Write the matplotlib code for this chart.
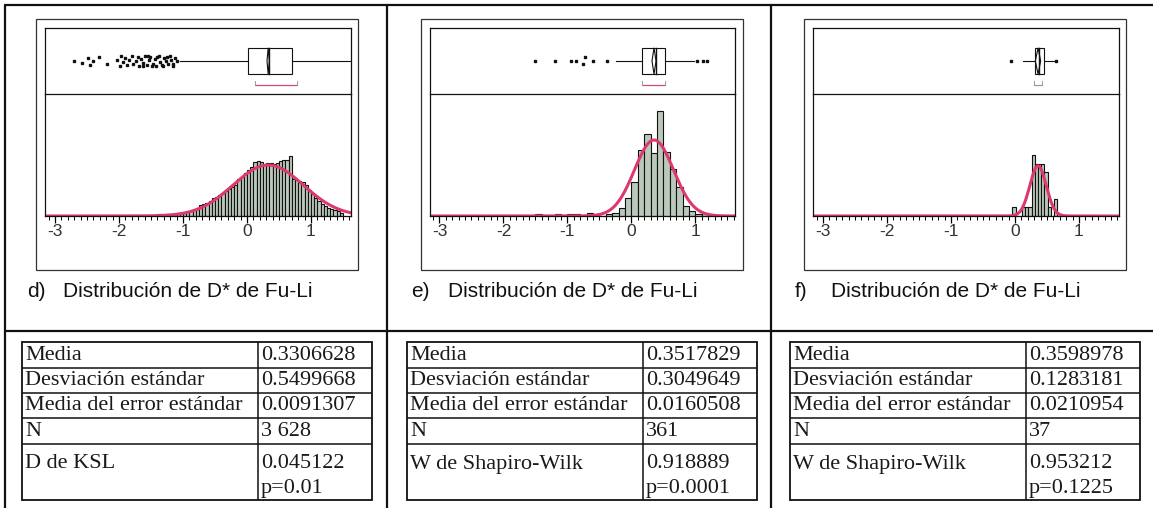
import numpy as np
import matplotlib
matplotlib.use("Agg")
import matplotlib.pyplot as plt
from matplotlib.lines import Line2D
from matplotlib.patches import Rectangle, Polygon

# ---------------- data ----------------
panel_letters = ["d)", "e)", "f)"]
caption_text = "Distribución de D* de Fu-Li"
xticks_major = [-3, -2, -1, 0, 1]

# histogram bins (start, width) and counts
d_bin_start, d_bin_w = -2.75, 0.05
d_counts = [1, 0, 0, 1, 0, 1, 0, 1, 1, 0, 1, 1, 0, 1, 2, 1, 1, 2, 1, 2, 2, 1, 2, 3, 2,
            3, 3, 4, 3, 4, 5, 5, 6, 7, 7,
            8, 10, 13, 18, 21, 28, 31, 34, 39, 46, 49, 54, 59, 65, 70, 75, 80, 95, 101, 111,
            119, 126, 139, 142, 139, 132, 137, 137, 134, 137, 142, 144, 144, 155, 95,
            93, 90, 88, 80, 67, 57, 46, 39, 31, 26, 21, 18, 15, 13, 8]
e_bin_start, e_bin_w = -1.5, 0.1
e_counts = [1, 0, 0, 1, 0, 1, 1, 0, 2, 0, 0, 1, 2, 5, 11, 21, 41, 51, 39, 65, 40, 29, 18, 6, 3, 1, 2]
f_bin_start, f_bin_w = -0.04, 0.05
f_counts = [1, 0, 0, 1, 1, 1, 7, 6, 6, 6, 5, 1, 0, 2]

# summary statistics (tables)
table_labels = [
    ["Media", "Desviación estándar", "Media del error estándar", "N", "D de KSL"],
    ["Media", "Desviación estándar", "Media del error estándar", "N", "W de Shapiro-Wilk"],
    ["Media", "Desviación estándar", "Media del error estándar", "N", "W de Shapiro-Wilk"],
]
table_values = [
    ["0.3306628", "0.5499668", "0.0091307", "3 628", "0.045122\np=0.01"],
    ["0.3517829", "0.3049649", "0.0160508", "361", "0.918889\np=0.0001"],
    ["0.3598978", "0.1283181", "0.0210954", "37", "0.953212\np=0.1225"],
]
means = [0.3306628, 0.3517829, 0.3598978]
sds = [0.5499668, 0.3049649, 0.1283181]
sems = [0.0091307, 0.0160508, 0.0210954]
ns = [3628, 361, 37]

# box plot statistics: whisker low, q1, median, q3, whisker high
box_stats = [
    [-1.05, 0.01, 0.35, 0.71, 1.70],
    [-0.24, 0.17, 0.38, 0.52, 0.98],
    [0.125, 0.31, 0.37, 0.45, 0.62],
]
shortest_half = [[0.125, 0.78], [0.17, 0.53], [0.29, 0.42]]
d_out_x = [-2.71, -2.58, -2.48, -2.45, -2.41, -2.32, -2.19, -2.03, -1.99, -1.97, -1.93, -1.90,
           -1.87, -1.84, -1.80, -1.78, -1.74, -1.71, -1.69, -1.65, -1.62, -1.60, -1.56, -1.53,
           -1.51, -1.47, -1.44, -1.42, -1.38, -1.36, -1.33, -1.30, -1.27, -1.24, -1.21, -1.18,
           -1.15, -1.12, -1.09, -1.62, -1.55, -1.48, -1.40, -1.31, -1.25, -1.16]
d_out_y = [0.50, 0.47, 0.54, 0.44, 0.50, 0.56, 0.45, 0.52, 0.42, 0.58, 0.48, 0.55,
           0.44, 0.52, 0.58, 0.46, 0.50, 0.56, 0.42, 0.53, 0.47, 0.58, 0.44, 0.51,
           0.56, 0.46, 0.53, 0.42, 0.58, 0.49, 0.44, 0.55, 0.50, 0.46, 0.57, 0.52,
           0.45, 0.55, 0.50, 0.43, 0.57, 0.42, 0.56, 0.42, 0.56, 0.43]
e_out_x = [-1.50, -1.20, -0.95, -0.87, -0.75, -0.72, -0.60, -0.38, 1.02, 1.11, 1.18]
e_out_y = [0.50, 0.50, 0.50, 0.50, 0.46, 0.56, 0.50, 0.50, 0.50, 0.50, 0.50]
f_out_x = [-0.06, 0.64]
f_out_y = [0.50, 0.50]

hist_data = [(d_bin_start, d_bin_w, d_counts), (e_bin_start, e_bin_w, e_counts),
             (f_bin_start, f_bin_w, f_counts)]
outliers = [(d_out_x, d_out_y), (e_out_x, e_out_y), (f_out_x, f_out_y)]
hist_ylim = [315, 75.8, 14.0]

# ---------------- layout helpers ----------------
W, H = 1153, 508
fig = plt.figure(figsize=(W / 100, H / 100), dpi=100)
fig.patch.set_facecolor("white")


def fx(x):
    return x / W


def fy(y):
    return 1 - y / H


def add_ax(x0, y0, x1, y1):
    return fig.add_axes([x0 / W, 1 - y1 / H, (x1 - x0) / W, (y1 - y0) / H])


def fline(x0, y0, x1, y1, lw=1.5, color="#111111"):
    fig.add_artist(Line2D([fx(x0), fx(x1)], [fy(y0), fy(y1)], transform=fig.transFigure,
                          color=color, lw=lw, solid_capstyle="butt"))


def frect(x0, y0, x1, y1, lw=1.0, color="#222222"):
    fig.add_artist(Rectangle((fx(x0), fy(y1)), fx(x1) - fx(x0), fy(y0) - fy(y1),
                             transform=fig.transFigure, fill=False, lw=lw, edgecolor=color))


SANS = ["Liberation Sans", "DejaVu Sans"]
SERIF = ["Liberation Serif", "DejaVu Serif"]
curve_color = "#dc3a6e"
bar_color = "#bac8ba"
xlim = (-3.156, 1.625)

# ---------------- outer grid ----------------
fline(4, 5, W, 5, lw=1.6)
fline(5, 5, 5, H, lw=1.6)
fline(387, 5, 387, H, lw=1.6)
fline(771, 5, 771, H, lw=1.6)
fline(5, 331, W, 331, lw=1.6)

panel_off = [0, 384.5, 768]
table_off = [0, 385, 768]

for i in range(3):
    off = panel_off[i]
    # frame around chart
    frect(36 + off, 19, 358 + off, 270, lw=0.9, color="#333333")

    # ---- histogram axes ----
    hax = add_ax(45 + off, 94, 351 + off, 216)
    hax.patch.set_visible(False)
    hax.set_xlim(*xlim)
    hax.set_ylim(0, hist_ylim[i])
    start, bw, counts = hist_data[i]
    lefts = start + bw * np.arange(len(counts))
    hax.bar(lefts, counts, width=bw, align="edge", color=bar_color, edgecolor="#111111",
            linewidth=0.8)
    xs = np.linspace(xlim[0], xlim[1], 600)
    pdf = np.exp(-0.5 * ((xs - means[i]) / sds[i]) ** 2) / (sds[i] * np.sqrt(2 * np.pi))
    hax.plot(xs, ns[i] * bw * pdf, color=curve_color, lw=2.2, solid_capstyle="round")
    hax.spines["top"].set_visible(False)
    for s in ["left", "right", "bottom"]:
        hax.spines[s].set_linewidth(0.9)
        hax.spines[s].set_color("#111111")
    hax.set_yticks([])
    hax.set_xticks(xticks_major)
    hax.set_xticklabels([str(t) for t in xticks_major], fontfamily=SANS,
                        fontsize=12.5, color="#333333")
    hax.set_xticks(np.round(np.arange(-3.1, 1.61, 0.1), 2), minor=True)
    hax.tick_params(axis="x", which="major", length=5, width=0.9, pad=0.5, direction="out")
    hax.tick_params(axis="x", which="minor", length=3, width=0.7, direction="out")

    # ---- box plot axes ----
    bax = add_ax(45 + off, 28, 351 + off, 94)
    bax.set_zorder(3)
    bax.patch.set_visible(False)
    bax.set_xlim(*xlim)
    bax.set_ylim(0, 1)
    bax.set_xticks([])
    bax.set_yticks([])
    for s in bax.spines.values():
        s.set_linewidth(0.9)
        s.set_color("#111111")
    wl, q1, med, q3, wh = box_stats[i]
    bax.plot([wl, q1], [0.5, 0.5], color="#111111", lw=0.8)
    bax.plot([q3, wh], [0.5, 0.5], color="#111111", lw=0.8)
    bax.add_patch(Rectangle((q1, 0.3), q3 - q1, 0.4, fill=False, edgecolor="#111111", lw=0.8))
    bax.plot([med, med], [0.3, 0.7], color="#111111", lw=1.0)
    ci = 1.96 * sems[i]
    m = means[i]
    bax.add_patch(Polygon([[m, 0.3], [m + ci, 0.5], [m, 0.7], [m - ci, 0.5]], closed=True,
                          fill=False, edgecolor="#111111", lw=0.8))
    ox, oy = outliers[i]
    bax.plot(ox, oy, linestyle="none", marker="s", markersize=1.5, color="#111111")
    sh0, sh1 = shortest_half[i]
    br_col = "#d04a6a" if i < 2 else "#9a9a9a"
    bax.plot([sh0, sh1], [0.135, 0.135], color=br_col, lw=0.9)
    bax.plot([sh0, sh0], [0.135, 0.2], color="#999999", lw=0.7)
    bax.plot([sh1, sh1], [0.135, 0.2], color="#999999", lw=0.7)

    # caption
    fig.text(fx(27 + off), fy(297), panel_letters[i], fontfamily=SANS, fontsize=15,
             color="#111111", va="baseline", ha="left")
    fig.text(fx(63 + off), fy(297), caption_text, fontfamily=SANS, fontsize=15,
             color="#111111", va="baseline", ha="left")

    # ---- table ----
    toff = table_off[i]
    tx0, tx1, tx2 = 22 + toff, 258 + toff, 372 + toff
    rows = [342, 367.5, 392.5, 418, 443.5, 500]
    frect(tx0, rows[0], tx2, rows[-1], lw=1.3, color="#111111")
    fline(tx1, rows[0], tx1, rows[-1], lw=1.1)
    for r in rows[1:-1]:
        fline(tx0, r, tx2, r, lw=1.1)
    fs = 16
    for k in range(5):
        lab = table_labels[i][k]
        val = table_values[i][k]
        if k < 4:
            yb = rows[k + 1] - 7.5
            fig.text(fx(tx0 + 3), fy(yb), lab, fontfamily=SERIF, fontsize=fs,
                     color="#1a1a1a", va="baseline", ha="left")
            fig.text(fx(tx1 + 3), fy(yb), val, fontfamily=SERIF, fontsize=fs,
                     color="#1a1a1a", va="baseline", ha="left")
        else:
            fig.text(fx(tx0 + 3), fy(468.5), lab, fontfamily=SERIF, fontsize=fs,
                     color="#1a1a1a", va="baseline", ha="left")
            for j, line in enumerate(val.split("\n")):
                fig.text(fx(tx1 + 3), fy(468.5 + 24.5 * j), line, fontfamily=SERIF,
                         fontsize=fs, color="#1a1a1a", va="baseline", ha="left")

fig.savefig("out.png", dpi=100, facecolor="white")
